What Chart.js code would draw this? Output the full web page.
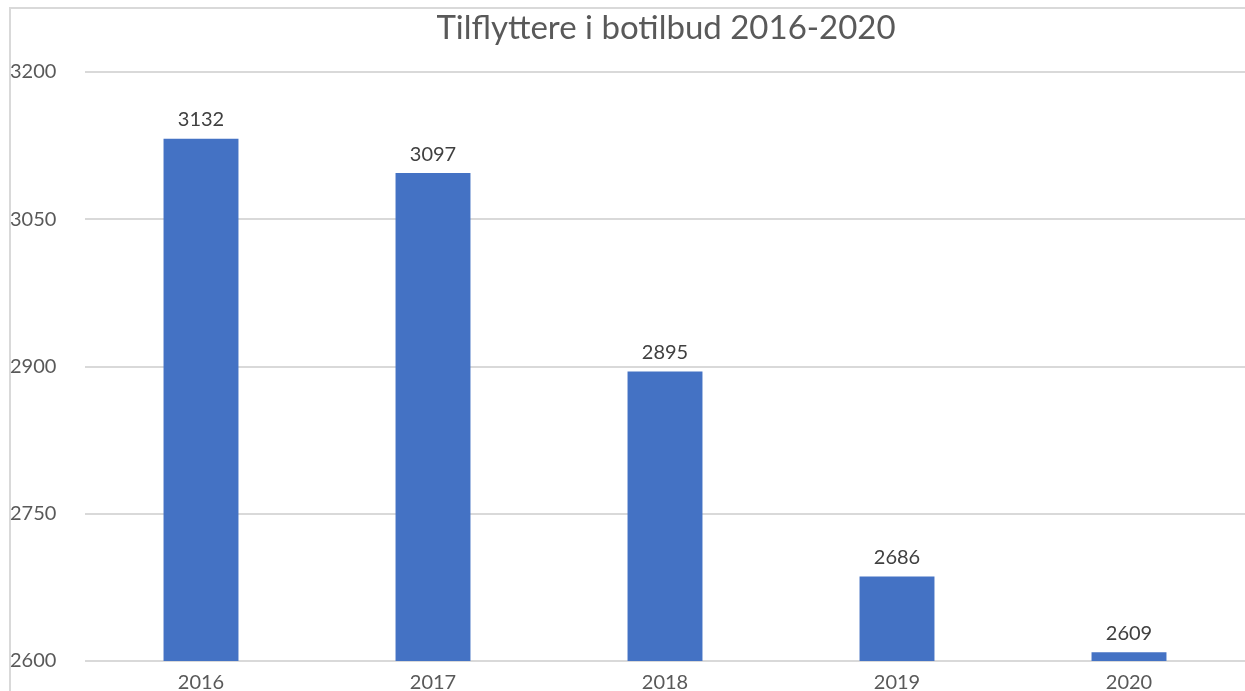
<!DOCTYPE html>
<html>
<head>
<meta charset="utf-8">
<script src="https://cdn.jsdelivr.net/npm/chart.js@4/dist/chart.umd.min.js"></script>
<style>
  html, body { margin: 0; padding: 0; background: #fff; overflow: hidden; }
  #wrap { position: relative; width: 1245px; height: 691px; }
  #frame { position: absolute; left: 9px; top: 7px; width: 1260px; height: 700px;
           border-left: 2px solid #d9d9d9; border-top: 2px solid #d9d9d9; }
  canvas { position: absolute; left: 0; top: 0; }
</style>
</head>
<body>
<div id="wrap">
  <div id="frame"></div>
  <canvas id="chart" width="1245" height="691"></canvas>
</div>
<script>
const years = ['2016', '2017', '2018', '2019', '2020']
const movers = [3132, 3097, 2895, 2686, 2609]
const yMin = 2600
const yMax = 3200
const yStep = 150
const chartTitle = 'Tilflyttere i botilbud 2016-2020'

// values on top of bars + the title (drawn off-centre like the original)
const barLabels = {
  id: 'barLabels',
  afterDatasetsDraw(chart) {
    const ctx = chart.ctx
    const meta = chart.getDatasetMeta(0)
    ctx.save()
    ctx.font = '20px Lato'
    ctx.fillStyle = '#404040'
    ctx.textAlign = 'center'
    ctx.textBaseline = 'bottom'
    meta.data.forEach((bar, i) => {
      ctx.fillText(movers[i], bar.x, bar.y - 9)
    })
    ctx.font = '33px Lato'
    ctx.fillStyle = '#595959'
    ctx.textBaseline = 'middle'
    ctx.fillText(chartTitle, 666, 28)
    ctx.restore()
  }
}

new Chart(document.getElementById('chart'), {
  type: 'bar',
  data: {
    labels: years,
    datasets: [{
      data: movers,
      backgroundColor: '#4472C4',
      barPercentage: 0.323,
      categoryPercentage: 1
    }]
  },
  options: {
    responsive: false,
    animation: false,
    layout: { padding: { left: 10, right: 0, top: 72, bottom: 0 } },
    plugins: {
      legend: { display: false },
      tooltip: { enabled: false },
      title: { display: false }
    },
    scales: {
      x: {
        grid: { display: false },
        border: { display: false },
        ticks: { color: '#595959', font: { family: 'Lato', size: 20 }, padding: 2 },
        afterFit(scale) { scale.height = 30 }
      },
      y: {
        min: yMin,
        max: yMax,
        border: { display: false },
        grid: { color: '#d9d9d9', lineWidth: 2, drawTicks: false },
        ticks: {
          stepSize: yStep,
          color: '#595959',
          font: { family: 'Lato', size: 20 },
          crossAlign: 'far',
          callback: (v) => String(v)
        },
        afterFit(scale) { scale.width = 75 }
      }
    }
  },
  plugins: [barLabels]
})
</script>
</body>
</html>
